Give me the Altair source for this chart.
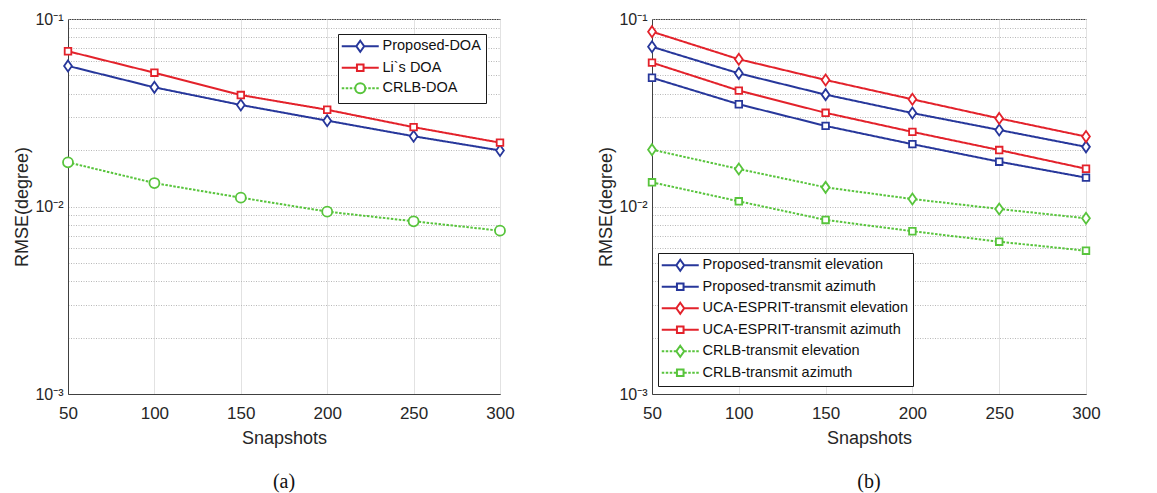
import altair as alt
import pandas as pd

# ---------------- data ----------------
snapshots = [50, 100, 150, 200, 250, 300]

# panel (a)
a_names = ["Proposed-DOA", "Li`s DOA", "CRLB-DOA"]
a_proposed = [0.0562, 0.0432, 0.0348, 0.0287, 0.0237, 0.0199]
a_li = [0.0673, 0.0517, 0.0393, 0.0328, 0.0265, 0.0219]
a_crlb = [0.0172, 0.01334, 0.01115, 0.00939, 0.00834, 0.00743]

# panel (b)
b_names = [
    "Proposed-transmit elevation",
    "Proposed-transmit azimuth",
    "UCA-ESPRIT-transmit elevation",
    "UCA-ESPRIT-transmit azimuth",
    "CRLB-transmit elevation",
    "CRLB-transmit azimuth",
]
b_prop_el = [0.0711, 0.0513, 0.0395, 0.0315, 0.0256, 0.0208]
b_prop_az = [0.0486, 0.0351, 0.0269, 0.0215, 0.01734, 0.01425]
b_uca_el = [0.0856, 0.0610, 0.0473, 0.0373, 0.0295, 0.0236]
b_uca_az = [0.0585, 0.0415, 0.0316, 0.0250, 0.0200, 0.0159]
b_crlb_el = [0.0201, 0.01585, 0.01265, 0.01096, 0.0097, 0.00865]
b_crlb_az = [0.01346, 0.01066, 0.00848, 0.00738, 0.00649, 0.00581]

x_ticks = [50, 100, 150, 200, 250, 300]
y_grid = [m * 10.0 ** e for e in (-3, -2) for m in range(1, 10)] + [0.1]

# ---------------- styles ----------------
BLUE = "#27379b"
RED = "#e3222b"
GREEN = "#58c43c"
SOLID = [1, 0]
DOT = [2.5, 1.5]

MK_DIAMOND = "M0,-1.1L0.78,0L0,1.1L-0.78,0Z"
MK_SQUARE = "M-0.66,-0.66L0.66,-0.66L0.66,0.66L-0.66,0.66Z"
MK_CIRCLE = "M1,0A1,1,0,1,1,-1,0A1,1,0,1,1,1,0Z"

# legend glyphs: line segment + marker (dotted variants drawn as short pieces)
SOLID_ARMS = "M-3.7,0L-{r},0M{r},0L3.7,0"
DOT_ARMS = ("M-3.7,0L-3.2,0M-2.9,0L-2.4,0M-2.1,0L-1.6,0M-1.3,0L-{r},0"
            "M{r},0L1.3,0M1.6,0L2.1,0M2.4,0L2.9,0M3.2,0L3.7,0")


def lg(arms, r, marker):
    return arms.format(r=r) + marker


LG_DIAMOND = lg(SOLID_ARMS, 0.78, MK_DIAMOND)
LG_SQUARE = lg(SOLID_ARMS, 0.66, MK_SQUARE)
LG_DIAMOND_DOT = lg(DOT_ARMS, 0.78, MK_DIAMOND)
LG_SQUARE_DOT = lg(DOT_ARMS, 0.66, MK_SQUARE)
LG_CIRCLE_DOT = lg(DOT_ARMS, 1.0, MK_CIRCLE)

FONT = "Liberation Sans"


def long_df(names, series):
    rows = []
    for n, vals in zip(names, series):
        for x, v in zip(snapshots, vals):
            rows.append({"series": n, "snap": x, "rmse": v})
    return pd.DataFrame(rows)


def panel(df, names, colors, dashes, markers, lg_paths, width, lx, ly, caption):
    base = alt.Chart(df)
    x = alt.X(
        "snap:Q",
        scale=alt.Scale(domain=[50, 300], nice=False),
        axis=alt.Axis(
            values=x_ticks, title="Snapshots", grid=True, gridColor="#e2e2e2",
            gridWidth=1, ticks=False, labelFontSize=17, titleFontSize=18,
            labelPadding=11, titlePadding=8, labelFont=FONT, titleFont=FONT,
            labelColor="#262626", titleColor="#262626", titleFontWeight="normal",
            domainColor="#404040", labelFlush=False,
        ),
    )
    y = alt.Y(
        "rmse:Q",
        scale=alt.Scale(type="log", domain=[0.001, 0.1], nice=False),
        axis=alt.Axis(
            values=y_grid, title="RMSE(degree)", grid=True, gridColor="#b8b8b8",
            gridDash=[1, 1.5], gridWidth=1, ticks=False, labelFontSize=16,
            titleFontSize=18, labelPadding=5, titlePadding=3, labelFont=FONT,
            titleFont=FONT, labelColor="#262626", titleColor="#262626",
            titleFontWeight="normal", domainColor="#404040",
            labelExpr="abs(log(datum.value)/LN10 - round(log(datum.value)/LN10)) < 1e-6 ? "
                      "(round(log(datum.value)/LN10) == -1 ? '10⁻¹' : "
                      "round(log(datum.value)/LN10) == -2 ? '10⁻²' : '10⁻³') : ''",
        ),
    )
    color_ = alt.Color("series:N", scale=alt.Scale(domain=names, range=colors), legend=None)
    dash_ = alt.StrokeDash("series:N", scale=alt.Scale(domain=names, range=dashes), legend=None)

    lines = base.mark_line(strokeWidth=2, clip=True).encode(x=x, y=y, color=color_, strokeDash=dash_)

    point_layers = []
    for n, c, m in zip(names, colors, markers):
        point_layers.append(
            base.transform_filter(alt.datum.series == n)
            .mark_point(shape=m, size=100, filled=False, fill="white", fillOpacity=1,
                        stroke=c, strokeWidth=1.8, opacity=1)
            .encode(x=x, y=y)
        )

    legend_layer = (
        base.transform_filter("false")
        .mark_point(filled=False, strokeWidth=2, size=100, opacity=1)
        .encode(
            x=x,
            y=y,
            color=alt.Color("series:N", scale=alt.Scale(domain=names, range=colors), legend=alt.Legend(
                title=None, orient="none", legendX=lx, legendY=ly, direction="vertical",
                strokeColor="#1a1a1a", fillColor="white", padding=5,
                labelFont=FONT, labelFontSize=14.5, labelColor="#111111",
                symbolSize=100, symbolStrokeWidth=2, symbolOffset=10, labelOffset=15,
                rowPadding=3.5, symbolFillColor="transparent", labelLimit=400,
            )),
            shape=alt.Shape("series:N", scale=alt.Scale(domain=names, range=lg_paths)),
        )
    )

    ch = alt.layer(lines, *point_layers, legend_layer).resolve_scale(
        color="independent", shape="independent", strokeDash="independent"
    ).properties(
        width=width, height=375,
        title=alt.TitleParams(
            text=caption, orient="bottom", font="Liberation Serif", fontSize=20,
            fontWeight="normal", color="#111111", offset=25, anchor="middle",
        ),
    )
    return ch


df_a = long_df(a_names, [a_proposed, a_li, a_crlb])
df_b = long_df(b_names, [b_prop_el, b_prop_az, b_uca_el, b_uca_az, b_crlb_el, b_crlb_az])

pa = panel(
    df_a, a_names, [BLUE, RED, GREEN], [SOLID, SOLID, DOT],
    [MK_DIAMOND, MK_SQUARE, MK_CIRCLE], [LG_DIAMOND, LG_SQUARE, LG_CIRCLE_DOT],
    432, 270, 15, "(a)",
)
pb = panel(
    df_b, b_names, [BLUE, BLUE, RED, RED, GREEN, GREEN], [SOLID, SOLID, SOLID, SOLID, DOT, DOT],
    [MK_DIAMOND, MK_SQUARE] * 3,
    [LG_DIAMOND, LG_SQUARE, LG_DIAMOND, LG_SQUARE, LG_DIAMOND_DOT, LG_SQUARE_DOT],
    434, 6, 234, "(b)",
)

chart = (
    alt.hconcat(pa, pb, spacing=82)
    .properties(padding={"left": 5, "top": 2, "right": 0, "bottom": 0}, background="white")
    .configure_view(stroke="#404040", strokeWidth=1)
)

chart.save("out.html", embed_options={"renderer": "svg", "actions": False})
